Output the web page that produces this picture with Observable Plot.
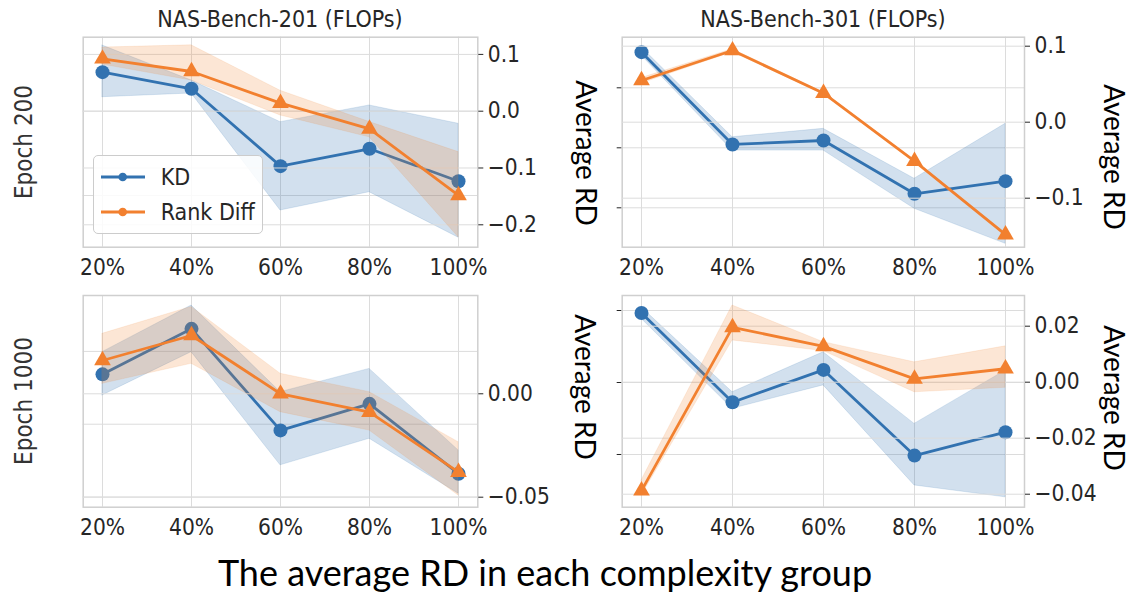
<!DOCTYPE html>
<html><head><meta charset="utf-8">
<script src="https://cdn.jsdelivr.net/npm/d3@7"></script>
<script src="https://cdn.jsdelivr.net/npm/@observablehq/plot@0.6"></script>
<style>
body{margin:0;background:#fff;}
#c{position:relative;width:1133px;height:597px;overflow:hidden;background:#fff;color:#262626;}
.t{position:absolute;white-space:nowrap;line-height:1;}
</style></head>
<body><div id="c"></div>
<script>
// ---------- data ----------
const cats = ["20%", "40%", "60%", "80%", "100%"];
const series = ["KD", "Rank Diff"];

// Top-left: NAS-Bench-201, Epoch 200
const tlKD   = [0.0463, 0.0266, -0.0652, -0.0446, -0.0831];
const tlKDLo = [0.0166, 0.0210, -0.1178, -0.0961, -0.1500];
const tlKDHi = [0.0779, 0.0364, -0.0130, 0.0068, -0.0149];
const tlRD   = [0.0923, 0.0699, 0.0141, -0.0310, -0.1484];
const tlRDLo = [0.0820, 0.0540, -0.0076, -0.0460, -0.2220];
const tlRDHi = [0.1120, 0.1160, 0.0360, -0.0190, -0.0720];

// Top-right: NAS-Bench-301, Epoch 200
const trKD   = [0.0797, 0.0028, 0.0061, -0.0383, -0.0278];
const trKDLo = [0.0769, -0.0023, -0.0023, -0.0508, -0.0800];
const trKDHi = [0.0838, 0.0088, 0.0158, -0.0258, 0.0200];
const trRD   = [0.0549, 0.0943, 0.0382, -0.0513, -0.1480];
const trRDLo = [0.0510, 0.0920, 0.0370, -0.0520, -0.1490];
const trRDHi = [0.0580, 0.0960, 0.0390, -0.0500, -0.1460];

// Bottom-left: NAS-Bench-201, Epoch 1000
const blKD   = [0.0137, 0.0262, -0.0017, 0.0056, -0.0136];
const blKDLo = [0.0079, 0.0198, -0.0113, -0.0040, -0.0191];
const blKDHi = [0.0198, 0.0326, 0.0088, 0.0152, -0.0072];
const blRD   = [0.0161, 0.0282, 0.0000, -0.0089, -0.0379];
const blRDLo = [0.0048, 0.0145, -0.0089, -0.0178, -0.0492];
const blRDHi = [0.0290, 0.0420, 0.0097, 0.0008, -0.0234];

// Bottom-right: NAS-Bench-301, Epoch 1000
const brKD   = [0.0193, -0.0055, 0.0035, -0.0203, -0.0138];
const brKDLo = [0.0177, -0.0073, -0.0008, -0.0286, -0.0319];
const brKDHi = [0.0209, -0.0027, 0.0084, -0.0115, 0.0033];
const brRD   = [-0.0387, 0.0196, 0.0128, 0.0012, 0.0048];
const brRDLo = [-0.0405, 0.0149, 0.0111, -0.0036, -0.0020];
const brRDHi = [-0.0351, 0.0274, 0.0143, 0.0071, 0.0128];

// tick values
const tlRDTicks = [0.1, 0, -0.1, -0.2], tlKDTicks = [0, -0.1];
const trRDTicks = [0.1, 0, -0.1],       trKDTicks = [0.05, 0, -0.05];
const blRDTicks = [0, -0.05],           blKDTicks = [0.02, 0, -0.02];
const brRDTicks = [0.02, 0, -0.02, -0.04], brKDTicks = [0.02, 0, -0.02];

const titles = ["NAS-Bench-201 (FLOPs)", "NAS-Bench-301 (FLOPs)"];
const rowLabels = ["Epoch 200", "Epoch 1000"];
const yLabel = "Average RD";
const caption = "The average RD in each complexity group";

// ---------- styling / layout ----------
const W = 1133, H = 597;
const BLUE = "#3272b0", ORANGE = "#f2802f";
const GRID = "#dcdcdc", SPINE = "#cfcfcf";
const SANS = "'DejaVu Sans Condensed', 'DejaVu Sans'";
const root = document.getElementById("c");

function rows(v, lo, hi) { return cats.map((c, i) => ({cat: c, v: v[i], lo: lo[i], hi: hi[i]})); }

function panel(p) {
  const margins = {marginLeft: p.l, marginRight: W - p.r, marginTop: p.t, marginBottom: H - p.b};
  const style = `background: transparent; font-family: ${SANS}; font-stretch: condensed; font-size: 22.5px; color: #262626; overflow: visible;`;
  const xs = {type: "point", domain: cats, padding: 0, inset: 18};
  const kdData = rows(p.kd, p.kdLo, p.kdHi);
  const rdData = rows(p.rd, p.rdLo, p.rdHi);

  const kdPlot = Plot.plot({
    width: W, height: H, ...margins, style,
    x: {...xs, label: null, tickSize: 0, tickPadding: 12},
    y: {domain: p.kdDomain, axis: p.leftTicks ? "left" : null, ticks: p.kdTicks, tickSize: 5, tickFormat: () => "", label: null},
    marks: [
      Plot.ruleX(cats, {stroke: GRID, strokeWidth: 1}),
      Plot.ruleY(p.kdTicks, {stroke: GRID, strokeWidth: 1}),
      Plot.frame({stroke: SPINE, strokeWidth: 1.5}),
      Plot.areaY(kdData, {x: "cat", y1: "lo", y2: "hi", fill: BLUE, fillOpacity: 0.22, stroke: BLUE, strokeOpacity: 0.15}),
      Plot.line(kdData, {x: "cat", y: "v", stroke: BLUE, strokeWidth: 2.8}),
      Plot.dot(kdData, {x: "cat", y: "v", fill: BLUE, r: 7, symbol: "circle"})
    ]
  });
  const rdPlot = Plot.plot({
    width: W, height: H, ...margins, style,
    x: {...xs, axis: null},
    y: {domain: p.rdDomain, axis: "right", ticks: p.rdTicks, tickSize: 5, tickPadding: 5, tickFormat: d3.format(p.fmt), label: null},
    marks: [
      Plot.ruleY(p.rdTicks, {stroke: GRID, strokeWidth: 1}),
      Plot.areaY(rdData, {x: "cat", y1: "lo", y2: "hi", fill: ORANGE, fillOpacity: 0.2, stroke: ORANGE, strokeOpacity: 0.12}),
      Plot.line(rdData, {x: "cat", y: "v", stroke: ORANGE, strokeWidth: 2.8}),
      Plot.dot(rdData, {x: "cat", y: "v", fill: ORANGE, r: 6.2, symbol: "triangle"})
    ]
  });
  for (const el of [kdPlot, rdPlot]) {
    el.style.position = "absolute"; el.style.left = "0px"; el.style.top = "0px";
    el.style.maxWidth = "none";
    root.appendChild(el);
  }
}

panel({kd: tlKD, kdLo: tlKDLo, kdHi: tlKDHi, rd: tlRD, rdLo: tlRDLo, rdHi: tlRDHi,
  kdTicks: tlKDTicks, rdTicks: tlRDTicks, kdDomain: [-0.16133, 0.08778], rdDomain: [-0.23944, 0.13028],
  fmt: ".1f", l: 82.7, r: 477.3, t: 36.7, b: 246.7, leftTicks: false});
panel({kd: trKD, kdLo: trKDLo, kdHi: trKDHi, rd: trRD, rdLo: trRDLo, rdHi: trRDHi,
  kdTicks: trKDTicks, rdTicks: trRDTicks, kdDomain: [-0.08283, 0.09217], rdDomain: [-0.16447, 0.11184],
  fmt: ".1f", l: 621.7, r: 1024, t: 36.7, b: 246.7, leftTicks: true});
panel({kd: blKD, kdLo: blKDLo, kdHi: blKDHi, rd: blRD, rdLo: blRDLo, rdHi: blRDHi,
  kdTicks: blKDTicks, rdTicks: blRDTicks, kdDomain: [-0.0228, 0.03536], rdDomain: [-0.05484, 0.04753],
  fmt: ".2f", l: 82.7, r: 477.3, t: 295, b: 506.7, leftTicks: false});
panel({kd: brKD, kdLo: brKDLo, kdHi: brKDHi, rd: brRD, rdLo: brRDLo, rdHi: brRDHi,
  kdTicks: brKDTicks, rdTicks: brRDTicks, kdDomain: [-0.03464, 0.02417], rdDomain: [-0.04464, 0.03096],
  fmt: ".2f", l: 621.7, r: 1024, t: 295, b: 506.7, leftTicks: true});

// ---------- texts ----------
function label(text, cx, cy, size, family, rot, color, stretch) {
  const d = document.createElement("div");
  d.className = "t";
  d.textContent = text;
  d.style.left = cx + "px"; d.style.top = cy + "px";
  d.style.fontSize = size + "px"; d.style.fontFamily = family;
  if (stretch) d.style.fontStretch = stretch;
  d.style.color = color || "#262626";
  d.style.transform = `translate(-50%,-50%) rotate(${rot || 0}deg)`;
  root.appendChild(d);
}
label(titles[0], 280, 19, 23, SANS, 0, "#262626", "condensed");
label(titles[1], 823, 19, 23, SANS, 0, "#262626", "condensed");
label(rowLabels[0], 24, 142, 24, SANS, -90, "#333", "condensed");
label(rowLabels[1], 24, 401, 24, SANS, -90, "#333", "condensed");
label(yLabel, 587, 153, 28, "Lato", 90, "#000");
label(yLabel, 1115, 157, 28, "Lato", 90, "#000");
label(yLabel, 586, 387, 28, "Lato", 90, "#000");
label(yLabel, 1115, 398, 28, "Lato", 90, "#000");
label(caption, 545, 572, 36, "Lato", 0, "#000");

// ---------- legend ----------
const leg = document.createElement("div");
leg.style.cssText = "position:absolute;left:92.7px;top:155px;width:170px;height:79px;border:1px solid #cccccc;border-radius:5px;background:rgba(255,255,255,0.85);box-sizing:border-box;";
const colors = [BLUE, ORANGE];
series.forEach((s, i) => {
  const cy = [21, 55.7][i];
  const sw = document.createElementNS("http://www.w3.org/2000/svg", "svg");
  sw.setAttribute("width", 50); sw.setAttribute("height", 12);
  sw.style.cssText = `position:absolute;left:6.3px;top:${cy - 6}px;`;
  sw.innerHTML = `<line x1="1" x2="45" y1="6" y2="6" stroke="${colors[i]}" stroke-width="2.8"/><circle cx="22.7" cy="6" r="4.3" fill="${colors[i]}"/>`;
  leg.appendChild(sw);
  const t = document.createElement("div");
  t.textContent = s;
  t.style.cssText = `position:absolute;left:67px;top:${cy}px;transform:translateY(-50%);font-family:${SANS};font-stretch:condensed;font-size:23px;line-height:1;color:#262626;white-space:nowrap;`;
  leg.appendChild(t);
});
root.appendChild(leg);
</script>
</body></html>
